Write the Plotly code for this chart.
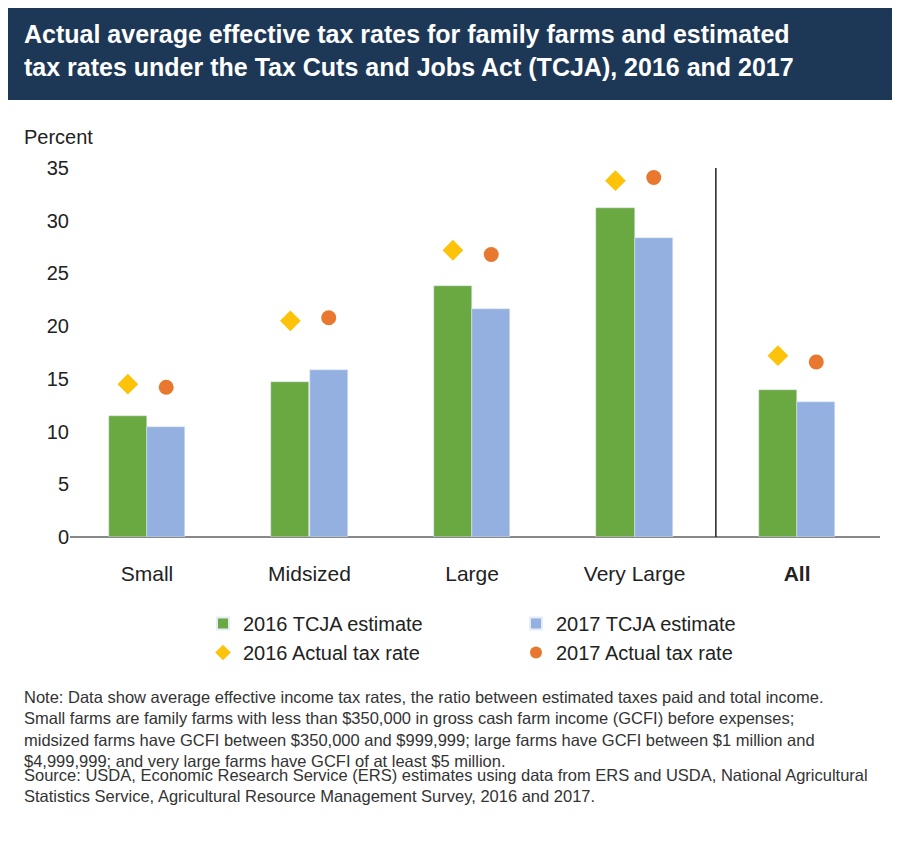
import plotly.graph_objects as go

categories = ["Small", "Midsized", "Large", "Very Large", "<b>All</b>"]
tcja2016 = [11.5, 14.7, 23.8, 31.2, 13.9]
tcja2017 = [10.4, 15.8, 21.6, 28.4, 12.8]
actual2016 = [14.5, 20.5, 27.2, 33.8, 17.2]
actual2017 = [14.2, 20.8, 26.8, 34.1, 16.6]
xpos = list(range(len(categories)))

W, H = 900, 859
D = 8  # page offset
L, R, T, B = 70 - D, 20 + D, 168 - D, 322 + D
pw, ph = W - L - R, H - T - B
def px(x): return (x - D - L) / pw
def py(y): return (H - B - (y - D)) / ph

off = 0.118
fig = go.Figure()
fig.add_bar(x=[p - off for p in xpos], y=tcja2016, width=0.235, marker_color="#6aa842", name="2016 TCJA estimate")
fig.add_bar(x=[p + off for p in xpos], y=tcja2017, width=0.235, marker_color="#94b0e0", name="2017 TCJA estimate")
fig.add_scatter(x=[p - off for p in xpos], y=actual2016, mode="markers", marker=dict(symbol="diamond", size=16, color="#fcc30a"), name="2016 Actual tax rate")
fig.add_scatter(x=[p + off for p in xpos], y=actual2017, mode="markers", marker=dict(symbol="circle", size=15, color="#e8782f"), name="2017 Actual tax rate")

font = "Liberation Sans, Arial, sans-serif"
fig.update_layout(
    width=W, height=H, margin=dict(l=L, r=R, t=T, b=B),
    plot_bgcolor="white", paper_bgcolor="white",
    font=dict(family=font, size=19, color="#222"),
    barmode="overlay", bargap=0,
    xaxis=dict(range=[-0.474, 4.51], tickvals=xpos, ticktext=categories, showgrid=False, zeroline=False,
               ticks="outside", ticklen=18, tickcolor="rgba(0,0,0,0)", tickfont=dict(size=21)),
    yaxis=dict(range=[0, 35], dtick=5, showgrid=False, zeroline=True, zerolinecolor="#888", ticks="", tickfont=dict(size=20)),
    legend=dict(orientation="h", x=px(203), y=py(604), xanchor="left", yanchor="top", entrywidth=268, entrywidthmode="pixels", font=dict(size=20), tracegroupgap=0, itemsizing="constant"),
    showlegend=True,
)
fig.add_shape(type="rect", xref="paper", yref="paper", x0=px(0), x1=px(910), y0=py(100), y1=py(0), fillcolor="#1d3857", line_width=0, layer="below")
fig.add_shape(type="line", xref="x", yref="paper", x0=3.5, x1=3.5, y0=0, y1=1, line=dict(color="#222", width=1.5))
fig.add_annotation(xref="paper", yref="paper", x=px(22), y=py(18), xanchor="left", yanchor="top", align="left", showarrow=False,
    text="<b>Actual average effective tax rates for family farms and estimated<br>tax rates under the Tax Cuts and Jobs Act (TCJA), 2016 and 2017</b>",
    font=dict(size=25, color="white", family=font))
fig.add_annotation(xref="paper", yref="paper", x=px(22), y=py(124), xanchor="left", yanchor="top", showarrow=False, text="Percent", font=dict(size=20))
fig.add_annotation(xref="paper", yref="paper", x=px(22), y=py(686), xanchor="left", yanchor="top", align="left", showarrow=False,
    text=("Note: Data show average effective income tax rates, the ratio between estimated taxes paid and total income.<br>"
          "Small farms are family farms with less than $350,000 in gross cash farm income (GCFI) before expenses;<br>"
          "midsized farms have GCFI between $350,000 and $999,999; large farms have GCFI between $1 million and<br>"
          "$4,999,999; and very large farms have GCFI of at least $5 million."),
    font=dict(size=16.5, color="#333"))
fig.add_annotation(xref="paper", yref="paper", x=px(22), y=py(764), xanchor="left", yanchor="top", align="left", showarrow=False,
    text=("Source: USDA, Economic Research Service (ERS) estimates using data from ERS and USDA, National Agricultural<br>"
          "Statistics Service, Agricultural Resource Management Survey, 2016 and 2017."),
    font=dict(size=16.5, color="#333"))
fig.write_html("out.html")
